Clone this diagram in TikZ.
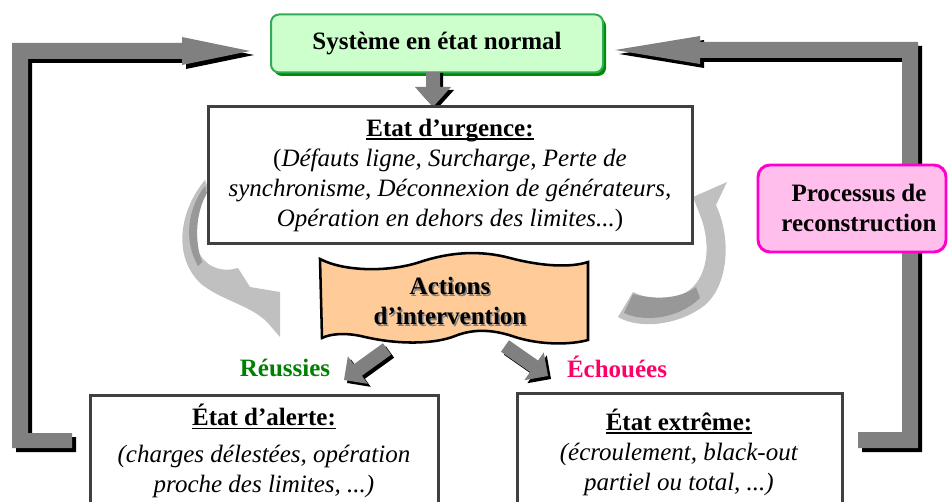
\documentclass[tikz,border=0pt]{standalone}
\usepackage{fontspec}
\setmainfont{Liberation Serif}
\newcommand{\uln}[1]{\setbox0\hbox{#1}\rlap{\rule[-2.8pt]{\wd0}{1.3pt}}\box0}
\usetikzlibrary{calc}
\definecolor{lgray}{RGB}{192,192,192}
\definecolor{dgray}{RGB}{152,152,152}
\definecolor{agray}{RGB}{128,128,128}
\definecolor{gfill}{RGB}{204,255,204}
\definecolor{gborder}{RGB}{51,170,85}
\definecolor{gshadow}{RGB}{0,140,0}
\definecolor{bdgray}{RGB}{64,64,64}
\definecolor{peach}{RGB}{255,204,153}
\definecolor{pfill}{RGB}{255,190,235}
\definecolor{pborder}{RGB}{255,0,204}
\definecolor{okgreen}{RGB}{0,128,0}
\definecolor{failpink}{RGB}{255,0,102}
\newcommand{\blockarr}[8]{%
  \pgfmathsetmacro{\baAng}{atan2(-(#4-#2),#3-#1)}%
  \pgfmathsetmacro{\baLen}{veclen(#3-#1,#4-#2)}%
  \pgfmathsetmacro{\baHb}{\baLen-#7}%
  \fill[#8, shift={(#1,#2)}, rotate=\baAng] (0,-#5) -- (\baHb,-#5) -- (\baHb,-#6) -- (\baLen,0) -- (\baHb,#6) -- (\baHb,#5) -- (0,#5) -- cycle;
}
\newcommand{\LeftLpath}{(72,433) -- (28,433) -- (28,59) -- (182,59) -- (182,65) -- (250,51) -- (182,37) -- (182,43) -- (12,43) -- (12,448) -- (72,448) -- cycle}
\newcommand{\RightLpath}{(858,432) -- (902,432) -- (902,58) -- (700,58) -- (700,64) -- (615,50) -- (700,36) -- (700,42) -- (918,42) -- (918,448) -- (858,448) -- cycle}
\tikzset{
  txt/.style={font=\fontsize{18.75}{22.5}\selectfont, align=center, inner sep=0pt},
  framebox/.style={draw=bdgray, line width=2.25pt, fill=white, inner sep=0pt},
}
\begin{document}
\begin{tikzpicture}[x=0.75pt,y=-0.75pt]
\useasboundingbox (0,0) rectangle (948,502);
\clip (0,0) rectangle (948,502);

% big L-shaped return arrows
\begin{scope}[shift={(4,4)}]
  \fill[black] \LeftLpath;
  \fill[black] \RightLpath;
\end{scope}
\fill[agray] \LeftLpath;
\fill[agray] \RightLpath;

% curved arrows
\fill[lgray] (205,180) .. controls (180,210) and (172,255) .. (200,283) .. controls (220,300) and (250,305) .. (267,322) -- (280,337) -- (280,292) -- (250,287) -- (238,268) .. controls (215,275) and (195,260) .. (195,235) .. controls (195,215) and (200,200) .. (208,188) -- cycle;
\fill[dgray] (205,186) .. controls (188,208) and (183,240) .. (198,266) -- (202,262) .. controls (194,240) and (196,212) .. (207,193) -- cycle;
\fill[lgray] (618,317) .. controls (640,330) and (680,325) .. (705,305) .. controls (728,285) and (732,240) .. (716,205) -- (727,182) -- (693,197) -- (700,215) .. controls (712,245) and (708,280) .. (685,293) .. controls (665,302) and (645,298) .. (633,292) -- cycle;
\fill[dgray] (624,313) .. controls (645,323) and (680,318) .. (700,298) -- (696,287) .. controls (680,299) and (655,300) .. (633,294) -- cycle;

% normal state
\fill[gshadow, rounded corners=6pt] (274,18) rectangle (606,76);
\node[draw=gborder, fill=gfill, line width=1.5pt, rounded corners=6pt, minimum width=249pt, minimum height=43.5pt, txt] (normal) at (437,43.5) {\textbf{Système en état normal}};

% down arrow
\blockarr{436}{73}{436}{110}{7}{18}{20}{black}
\blockarr{433}{72}{433}{107}{7}{18}{20}{agray}

% emergency state
\node[framebox, minimum width=363pt, minimum height=102pt, txt] (urgence) at (450,175) {\textbf{\uln{Etat d’urgence:}}\\ (\textit{Défauts ligne, Surcharge, Perte de}\\ \textit{synchronisme, Déconnexion de générateurs,}\\ \textit{Opération en dehors des limites...})};

% banner
\draw[line width=1.9pt, fill=peach] (320,259) .. controls (345,272) and (390,272) .. (420,262) .. controls (450,252) and (480,250) .. (510,258) .. controls (540,266) and (570,268) .. (588,262) -- (588,340) .. controls (570,345) and (540,345) .. (515,337) .. controls (495,330) and (475,328) .. (455,336) .. controls (435,344) and (400,345) .. (365,337) .. controls (345,332) and (330,334) .. (322,338) -- cycle;
\node[txt, text=agray] at (451.5,302.5) {\textbf{Actions}\\\textbf{d’intervention}};
\node[txt] (actions) at (450,301) {\textbf{Actions}\\\textbf{d’intervention}};

% small arrows
\blockarr{390}{352}{347}{383}{7}{17}{17}{black}
\blockarr{387}{349}{344}{380}{7}{17}{17}{agray}
\blockarr{508}{349}{551}{379}{7}{17}{17}{black}
\blockarr{505}{346}{548}{376}{7}{17}{17}{agray}

\node[txt, text=okgreen] (reussies) at (285,368) {\textbf{Réussies}};
\node[txt, text=failpink] (echouees) at (617,367) {\textbf{Échouées}};

% bottom states
\node[framebox, minimum width=261pt, minimum height=93.75pt] (alertebox) at (264,457.5) {};
\node[txt] (alerte) at (264,451) {\textbf{\uln{État d’alerte:}}\\[5pt] \textit{(charges délestées, opération}\\ \textit{proche des limites, ...)}};
\node[framebox, minimum width=243.75pt, minimum height=95.25pt] (extremebox) at (679.5,456.5) {};
\node[txt] (extreme) at (679,452) {\textbf{\uln{État extrême:}}\\ \textit{(écroulement, black-out}\\ \textit{partiel ou total, ...)}};

% reconstruction
\node[draw=pborder, fill=pfill, line width=2.2pt, rounded corners=9pt, minimum width=141pt, minimum height=65.25pt, inner sep=0pt] (procbox) at (852,208.5) {};
\node[txt] (proc) at (859,208) {\textbf{Processus de}\\\textbf{reconstruction}};
\end{tikzpicture}
\end{document}
